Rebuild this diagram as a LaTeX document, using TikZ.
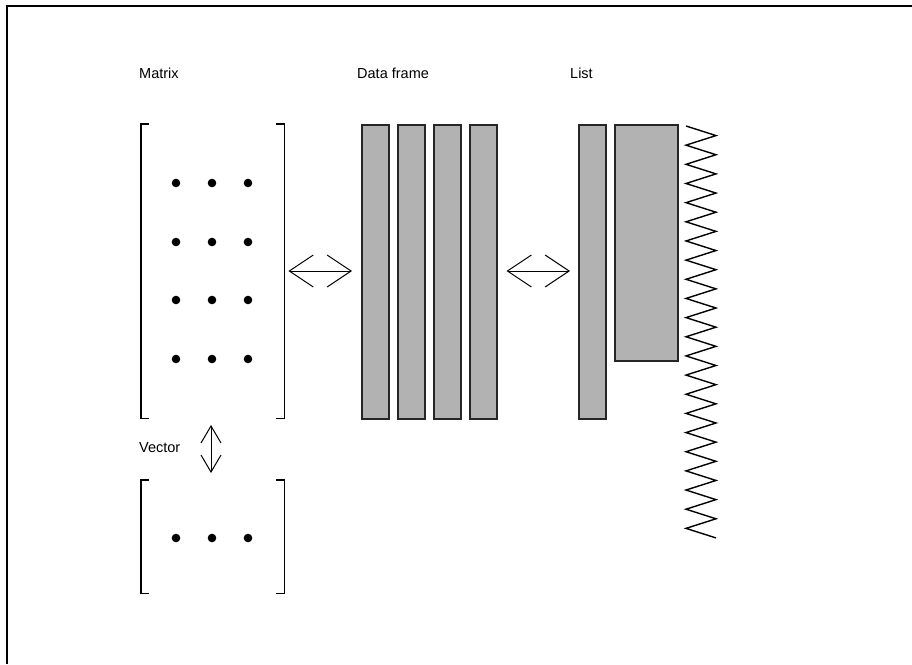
\documentclass[tikz,border=0pt]{standalone}
\usepackage{fontspec}
\setmainfont{Liberation Sans}
\usetikzlibrary{arrows.meta}
\begin{document}
\begin{tikzpicture}[x=1pt,y=-1pt,
  lbl/.style={anchor=west,inner sep=0pt,font=\fontsize{14.5}{17}\selectfont},
  col/.style={draw=black!85,line width=1.5pt,fill=black!30,inner sep=0pt,anchor=north west},
  region/.style={inner sep=0pt,anchor=north west},
  brk/.style={line width=1.6pt},
  dotm/.style={fill=black,draw=none},
  darrow/.style={line width=1pt,{Straight Barb[length=24pt,width=32pt,line width=1pt]}-{Straight Barb[length=24pt,width=32pt,line width=1pt]}},
  varrow/.style={line width=1pt,{Straight Barb[length=17pt,width=20pt,line width=1pt]}-{Straight Barb[length=17pt,width=20pt,line width=1pt]}}
]
\useasboundingbox (0,0) rectangle (912,664);
% frame
\draw[line width=2.2pt] (7,664) -- (7,6) -- (912,6);

% labels
\node[lbl] (lmat) at (139,73) {Matrix};
\node[lbl] (ldf) at (357,73) {Data frame};
\node[lbl] (llist) at (570,73) {List};
\node[lbl] (lvec) at (139,448) {Vector};

% matrix region
\node[region,minimum width=143pt,minimum height=294pt] (mat) at (141,124) {};
\draw[brk] ([xshift=8pt]mat.north west) -- (mat.north west) -- (mat.south west) -- ([xshift=8pt]mat.south west);
\draw[brk] ([xshift=-8pt]mat.north east) -- (mat.north east) -- (mat.south east) -- ([xshift=-8pt]mat.south east);
\foreach \x in {176,212,248}{
  \foreach \y in {183,242,300,359}{
    \fill[dotm] (\x,\y) circle (4.3pt);
  }
}

% vector region
\node[region,minimum width=143pt,minimum height=113pt] (vec) at (141,480) {};
\draw[brk] ([xshift=8pt]vec.north west) -- (vec.north west) -- (vec.south west) -- ([xshift=8pt]vec.south west);
\draw[brk] ([xshift=-8pt]vec.north east) -- (vec.north east) -- (vec.south east) -- ([xshift=-8pt]vec.south east);
\foreach \x in {176,212,248}{
  \fill[dotm] (\x,538) circle (4.3pt);
}

% data frame columns
\node[col,minimum width=27pt,minimum height=294pt] (df1) at (361,124) {};
\node[col,minimum width=27pt,minimum height=294pt] (df2) at (397,124) {};
\node[col,minimum width=27pt,minimum height=294pt] (df3) at (433,124) {};
\node[col,minimum width=27pt,minimum height=294pt] (df4) at (469,124) {};

% list
\node[col,minimum width=27pt,minimum height=294pt] (l1) at (578,124) {};
\node[col,minimum width=63pt,minimum height=236pt] (l2) at (614,124) {};
\draw[line width=1.4pt] (686,126)
  \foreach \i in {1,...,43}{ -- ({ifthenelse(mod(\i,2)==1,716,686)},{126+\i*9.58}) };

% arrows
\draw[darrow,shorten <=4pt,shorten >=9pt] (mat.east |- 0,271) -- (df1.west |- 0,271);
\draw[darrow,shorten <=9pt,shorten >=8pt] (df4.east |- 0,271) -- (l1.west |- 0,271);
\draw[varrow,shorten <=7pt,shorten >=7pt] (211,418) -- (211,480);
\end{tikzpicture}
\end{document}
